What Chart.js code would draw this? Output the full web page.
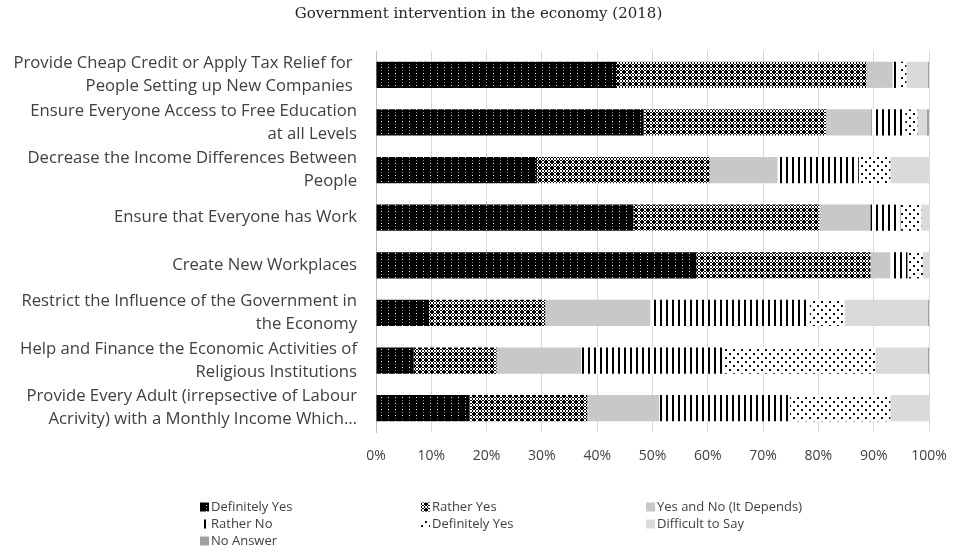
<!DOCTYPE html>
<html><head><meta charset="utf-8">
<script src="https://cdn.jsdelivr.net/npm/chart.js@4.4.1/dist/chart.umd.min.js"></script>
<style>html,body{margin:0;padding:0;background:#fff;} #wrap{width:955px;height:557px;position:relative;}</style>
</head><body><div id="wrap"><canvas id="c" width="955" height="557"></canvas></div>
<script>
const chartTitle = "Government intervention in the economy (2018)";
const categories = [
  ["Provide Cheap Credit or Apply Tax Relief for ", "People Setting up New Companies "],
  ["Ensure Everyone Access to Free Education", "at all Levels"],
  ["Decrease the Income Differences Between", "People"],
  "Ensure that Everyone has Work",
  "Create New Workplaces",
  ["Restrict the Influence of the Government in", "the Economy"],
  ["Help and Finance the Economic Activities of", "Religious Institutions"],
  ["Provide Every Adult (irrepsective of Labour", "Acrivity) with a Monthly Income Which…"]
];
const seriesNames = ["Definitely Yes", "Rather Yes", "Yes and No (It Depends)", "Rather No", "Definitely Yes", "Difficult to Say", "No Answer"];
const definitelyYes  = [43.4, 48.4, 29.1, 46.6, 57.9, 9.6, 6.8, 16.9];
const ratherYes      = [45.3, 33.0, 31.2, 33.6, 31.5, 21.0, 15.0, 21.3];
const yesAndNo       = [4.7, 8.2, 12.3, 9.2, 3.6, 19.0, 15.3, 13.0];
const ratherNo       = [1.3, 6.1, 14.7, 5.4, 3.1, 28.8, 25.9, 23.6];
const definitelyNo   = [1.2, 2.2, 5.7, 3.8, 2.8, 6.3, 27.3, 18.2];
const difficultToSay = [3.9, 1.7, 7.0, 1.4, 1.1, 15.1, 9.5, 7.0];
const noAnswer       = [0.2, 0.4, 0, 0, 0, 0.2, 0.2, 0];
const xTickLabels = ["0%", "10%", "20%", "30%", "40%", "50%", "60%", "70%", "80%", "90%", "100%"];

const canvas = document.getElementById('c');
const mainCtx = canvas.getContext('2d');
function bitmapPattern(rows, fg, bg) {
  const h = rows.length, w = rows[0].length;
  const c = document.createElement('canvas'); c.width = w; c.height = h;
  const g = c.getContext('2d');
  g.fillStyle = bg; g.fillRect(0, 0, w, h);
  for (let y = 0; y < h; y++) for (let x = 0; x < w; x++) {
    const ch = rows[y][x];
    if (ch === '1') { g.fillStyle = fg; g.fillRect(x, y, 1, 1); }
    else if (ch === '2') { g.fillStyle = '#777777'; g.fillRect(x, y, 1, 1); }
  }
  return mainCtx.createPattern(c, 'repeat');
}
const patDY = bitmapPattern([
  "0000000",
  "0001000",
  "0000000",
  "0000000",
  "0002000",
  "0000000"], '#ffffff', '#000000');
const patRY = bitmapPattern([
  "110011",
  "101101",
  "010010",
  "010010",
  "101101",
  "110011"], '#000000', '#ffffff');
const patRN = bitmapPattern(["110000"], '#000000', '#ffffff');
const patDN = bitmapPattern([
  "00000000",
  "01100000",
  "01100000",
  "00000000",
  "00000000",
  "00000110",
  "00000110",
  "00000000"], '#111111', '#ffffff');
const fills = [patDY, patRY, '#c8c8c8', patRN, patDN, '#dadada', '#a0a0a0'];
const seriesValues = [definitelyYes, ratherYes, yesAndNo, ratherNo, definitelyNo, difficultToSay, noAnswer];

const gridLegend = {
  id: 'gridLegend',
  afterLayout(chart) {
    if (chart.titleBlock) { chart.titleBlock.left += 28; }
  },
  afterDraw(chart) {
    const ctx = chart.ctx;
    const cols = [200, 421, 646], rows = [507, 524, 541];
    ctx.save();
    ctx.font = '13px "Open Sans"';
    ctx.textBaseline = 'middle';
    chart.data.datasets.forEach((d, i) => {
      const x = cols[i % 3], y = rows[Math.floor(i / 3)];
      ctx.fillStyle = d.backgroundColor;
      ctx.fillRect(x, y - 4.5, 9, 9);
      ctx.fillStyle = '#404040';
      ctx.fillText(d.label, x + 11, y);
    });
    ctx.restore();
  }
};

new Chart(canvas, {
  type: 'bar',
  data: {
    labels: categories,
    datasets: seriesNames.map((n, i) => ({
      label: n,
      data: seriesValues[i],
      backgroundColor: fills[i],
      borderWidth: 0,
      barPercentage: 0.55,
      categoryPercentage: 1.0
    }))
  },
  options: {
    indexAxis: 'y',
    responsive: false,
    animation: false,
    devicePixelRatio: 1,
    layout: { padding: { left: 0, right: 26, top: 0, bottom: 0 } },
    plugins: {
      legend: { display: false },
      tooltip: { enabled: false },
      title: {
        display: true, text: chartTitle, color: '#262626',
        font: { family: '"DejaVu Serif"', size: 15, weight: 'normal' },
        padding: { top: 5, bottom: 28 }
      }
    },
    scales: {
      x: {
        stacked: true, min: 0, max: 100,
        ticks: { stepSize: 10, color: '#404040', font: { family: '"Open Sans"', size: 14 }, padding: 16,
                 callback: (v, i) => xTickLabels[i] },
        grid: { color: '#d9d9d9', drawTicks: false },
        border: { display: false },
        afterFit(scale) { scale.height = 125; scale.paddingRight = 0; scale.paddingLeft = 0; }
      },
      y: {
        stacked: true,
        ticks: { color: '#404040', font: { family: '"Open Sans"', size: 16.7, lineHeight: 1.38 }, padding: 19, autoSkip: false },
        grid: { display: false, drawTicks: false },
        border: { display: true, color: '#bfbfbf' },
        afterFit(scale) { scale.width = 376; }
      }
    }
  },
  plugins: [gridLegend]
});
</script>
</body></html>
